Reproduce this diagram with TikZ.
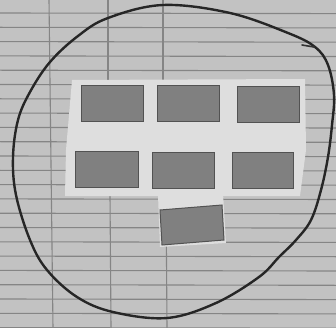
\documentclass[tikz,border=0pt]{standalone}
\begin{document}
\begin{tikzpicture}[x=1pt,y=-1pt,
  rule/.style={draw=black!48,line width=1.1pt},
  patch/.style={fill=black!13},
  card/.style={fill=black!50,draw=black!68,line width=1pt},
  loop/.style={draw=black!85,line width=2.4pt,line join=round,line cap=round}]
\useasboundingbox (0,0) rectangle (336,328);
% paper
\fill[black!24] (0,0) rectangle (336,328);
% ruled lines
\foreach \k in {0,...,22}{
  \draw[rule] (0,{13+14.3*\k}) -- (336,{13.6+14.3*\k});
}
% vertical lines
\draw[rule] (49,0) -- (53,328);
\draw[rule] (108,0) -- (108,80);
\draw[rule] (110,195) -- (111,328);
\draw[rule] (163,0) -- (163,80);
\draw[rule] (166,193) -- (167,328);
% paper patches
\fill[patch] (72,80) -- (305,79) -- (306,150) -- (300,196) -- (65,196) -- (66,150) -- cycle;
\fill[patch] (158,195) -- (223,193) -- (226,243) -- (160,247) -- cycle;
% cards
\path[card] (81,86) rectangle (143,122);
\path[card] (157,86) rectangle (219,122);
\path[card] (237,87) rectangle (299,123);
\path[card] (75,152) rectangle (138,187);
\path[card] (152,153) rectangle (214,188);
\path[card] (232,153) rectangle (293,188);
\path[card] (160,210) -- (222,205) -- (224,240) -- (162,245) -- cycle;
% hand-drawn loop
\draw[loop] plot[smooth cycle,tension=0.6] coordinates {
 (163,5) (230,13) (288,33) (315,47) (328,65) (334,95) (332,125) (328,157)
 (321,190) (311,220) (296,240) (279,257) (259,277) (216,303) (167,318)
 (113,312) (77,297) (47,270) (30,240) (16,195) (13,157) (18,120) (30,92)
 (50,62) (78,36) (108,18)};
\draw[draw=black!80,line width=1.6pt,line cap=round] (302,45) -- (314,47);
\end{tikzpicture}
\end{document}
